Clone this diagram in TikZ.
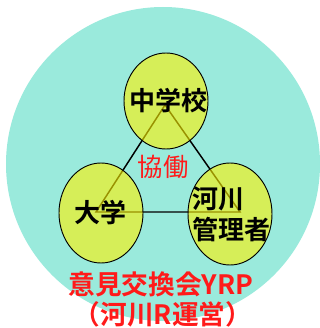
\documentclass[tikz,border=0pt]{standalone}
\usepackage{fontspec}
\newfontfamily\jp{Noto Sans CJK JP}[BoldFont={Noto Sans CJK JP Bold}]
\definecolor{bgcyan}{HTML}{9AEADC}
\definecolor{txtred}{HTML}{FF1A1A}
\begin{document}
\begin{tikzpicture}[x=0.75pt,y=-0.75pt,
  bubble/.style={draw=black,line width=0.7pt,fill=yellow,fill opacity=0.6},
  lbl/.style={font=\jp\bfseries\fontsize{19.5pt}{23.5pt}\selectfont,text=black,inner sep=0pt,align=center},
  redlbl/.style={font=\jp\bfseries\fontsize{20pt}{23pt}\selectfont,text=txtred,inner sep=0pt,align=center},
  link/.style={draw=black,line width=1.1pt}]
\useasboundingbox (0,0) rectangle (320,328);
\fill[bgcyan] (163,164) circle[radius=157];
% triangle vertices
\coordinate (t) at (165,105);
\coordinate (l) at (96,212);
\coordinate (r) at (240,212);
\draw[link] (t) -- (l) -- (r) -- cycle;
% bubbles
\path[bubble] (166,101) ellipse[x radius=42,y radius=48];
\path[bubble] (101,213) ellipse[x radius=42,y radius=50];
\path[bubble] (230,214) ellipse[x radius=42,y radius=51];
% labels
\node[lbl] (school) at (168,101) {中学校};
\node[lbl] (univ) at (100,213) {大学};
\node[lbl,align=left] (river) at (231,214) {河川\\管理者};
\node[font=\jp\fontsize{19pt}{23pt}\selectfont,text=txtred,inner sep=0pt] (kyodo) at (163,167) {協働};
\node[redlbl] (yrp) at (161,284) {意見交換会YRP};
\node[redlbl] (unei) at (163,314) {（河川R運営）};
\end{tikzpicture}
\end{document}
